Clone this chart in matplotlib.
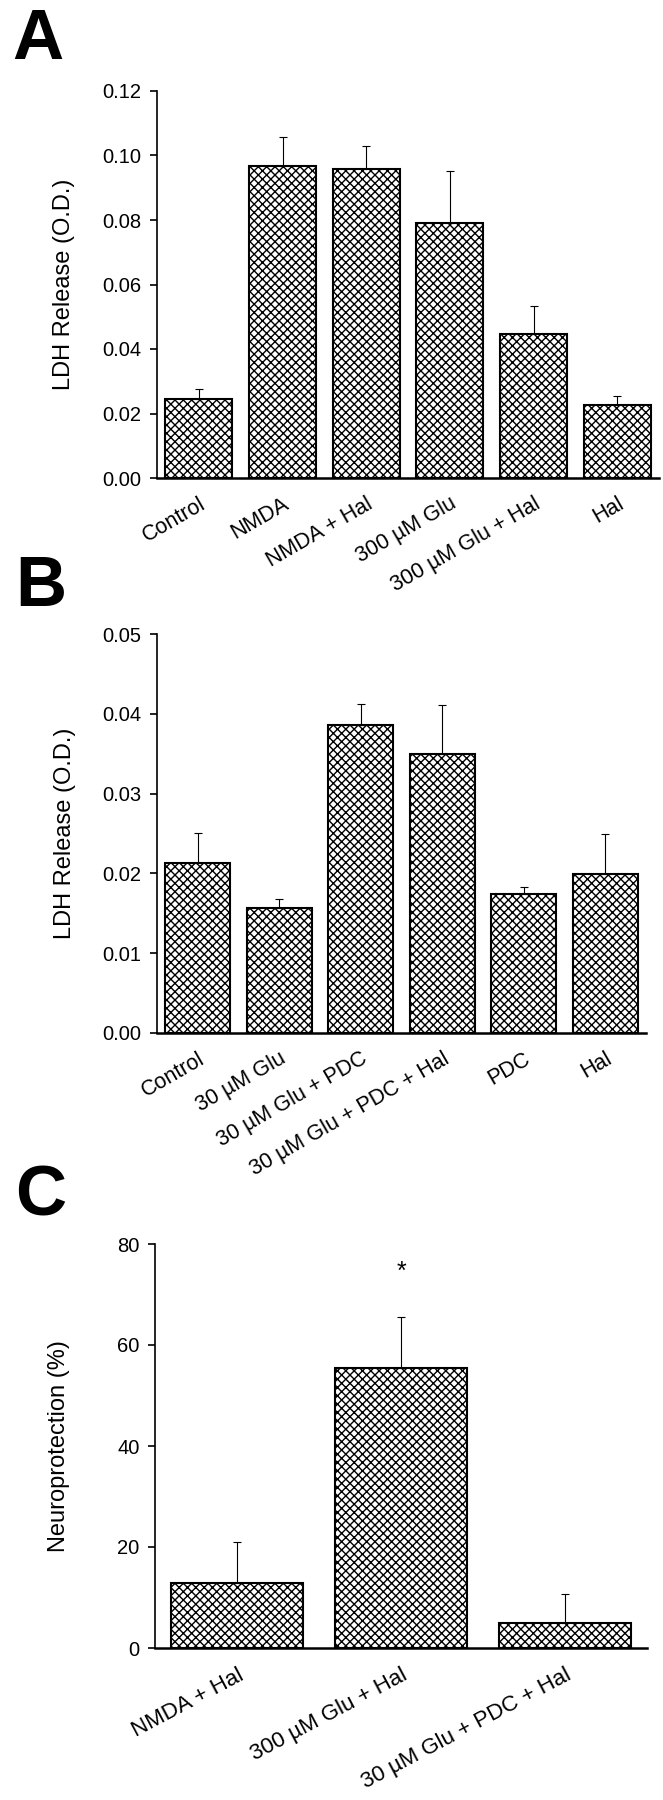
import matplotlib
matplotlib.use('Agg')
import matplotlib.pyplot as plt
import matplotlib.transforms as mtransforms
import numpy as np

plt.rcParams['font.family'] = ['Liberation Sans', 'DejaVu Sans']
plt.rcParams['hatch.linewidth'] = 1.0

# panel A
a_labels = ['Control', 'NMDA', 'NMDA + Hal', '300 µM Glu', '300 µM Glu + Hal', 'Hal']
a_means = [0.0246, 0.0968, 0.0957, 0.0791, 0.0446, 0.0225]
a_errs = [0.0031, 0.0090, 0.0072, 0.0160, 0.0087, 0.0029]
a_ticks = [0.00, 0.02, 0.04, 0.06, 0.08, 0.10, 0.12]

# panel B
b_labels = ['Control', '30 µM Glu', '30 µM Glu + PDC', '30 µM Glu + PDC + Hal', 'PDC', 'Hal']
b_means = [0.0213, 0.0157, 0.0386, 0.0349, 0.0174, 0.0199]
b_errs = [0.0038, 0.0011, 0.0026, 0.0062, 0.0009, 0.0050]
b_ticks = [0.00, 0.01, 0.02, 0.03, 0.04, 0.05]

# panel C
c_labels = ['NMDA + Hal', '300 µM Glu + Hal', '30 µM Glu + PDC + Hal']
c_means = [12.9, 55.5, 4.9]
c_errs = [8.0, 10.0, 5.7]
c_ticks = [0, 20, 40, 60, 80]
c_star = 74.5


def draw_panel(ax, labels, means, errs, ticks, fmt, ylabel, xfs, rot, lab_x, dx, pad):
    x = np.arange(len(labels))
    ax.bar(x, means, 0.8, color='white', edgecolor='black', linewidth=1.5,
           hatch='xxxx', zorder=2)
    ax.errorbar(x, means, yerr=[np.zeros(len(errs)), errs], fmt='none',
                ecolor='black', elinewidth=0.8, capsize=3, capthick=0.8, zorder=3)
    ax.set_xlim(-0.5, len(labels) - 0.5)
    ax.set_ylim(ticks[0], ticks[-1])
    ax.set_yticks(ticks)
    ax.set_yticklabels([fmt % t for t in ticks], fontsize=14.5)
    ax.set_xticks(x)
    ax.set_xticklabels(labels, fontsize=xfs, rotation=rot, ha='right',
                       rotation_mode='anchor')
    # nudge the slanted labels left, as in the original figure
    shift = mtransforms.ScaledTranslation(dx / 100.0, 0, ax.figure.dpi_scale_trans)
    for t in ax.get_xticklabels():
        t.set_transform(t.get_transform() + shift)
    ax.tick_params(axis='x', length=0, pad=pad)
    ax.tick_params(axis='y', length=5, width=1.2, pad=6)
    for s in ['top', 'right']:
        ax.spines[s].set_visible(False)
    ax.spines['left'].set_linewidth(1.2)
    ax.spines['bottom'].set_linewidth(1.8)
    ax.set_ylabel(ylabel, fontsize=17)
    ax.yaxis.set_label_coords(lab_x, 0.5)


fig = plt.figure(figsize=(6.63, 18), dpi=100)
W, H = 663.0, 1800.0

def add_axes(left, right, top, bottom):
    return fig.add_axes([left / W, 1 - bottom / H, (right - left) / W, (bottom - top) / H])

ax_a = add_axes(157, 659, 91, 478)
ax_b = add_axes(157, 646, 634, 1033)
ax_c = add_axes(155, 647, 1244, 1648)

draw_panel(ax_a, a_labels, a_means, a_errs, a_ticks, '%.2f',
           'LDH Release (O.D.)', 15.5, 30, -0.163, -18, 11)
draw_panel(ax_b, b_labels, b_means, b_errs, b_ticks, '%.2f',
           'LDH Release (O.D.)', 15.5, 30, -0.166, -18, 11)
draw_panel(ax_c, c_labels, c_means, c_errs, c_ticks, '%d',
           'Neuroprotection (%)', 16, 28, -0.173, -4, 12)
ax_c.text(1, c_star, '*', ha='center', va='center', fontsize=18)

for letter, lx, ly in [('A', 12, 59), ('B', 15, 606), ('C', 15, 1216)]:
    fig.text(lx / W, 1 - ly / H, letter, fontsize=51, fontweight='bold',
             va='baseline', ha='left')

fig.savefig('out.png', dpi=100)
